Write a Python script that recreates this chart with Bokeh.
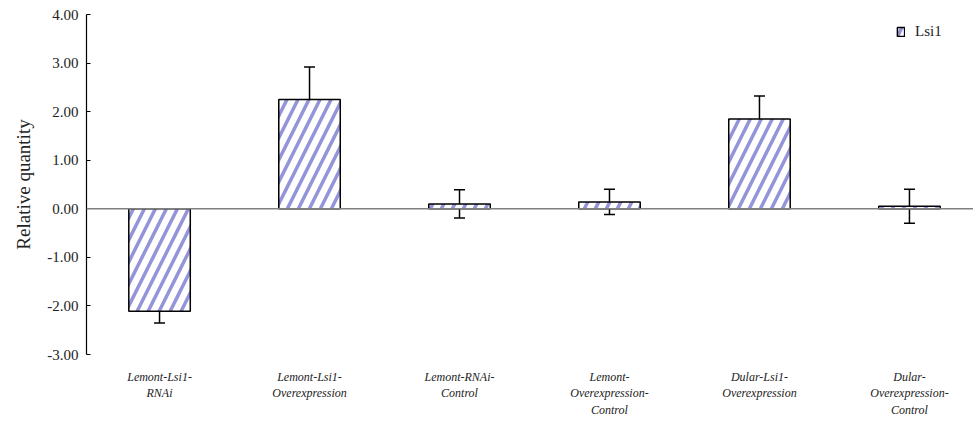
from bokeh.plotting import figure
from bokeh.models import Range1d, ColumnDataSource, Whisker, TeeHead, Span, FixedTicker, Legend, LegendItem
from bokeh.embed import file_html
from bokeh.resources import INLINE

categories = ["Lemont-Lsi1-\nRNAi", "Lemont-Lsi1-\nOverexpression", "Lemont-RNAi-\nControl",
              "Lemont-\nOverexpression-\nControl", "Dular-Lsi1-\nOverexpression",
              "Dular-\nOverexpression-\nControl"]
values = [-2.11, 2.25, 0.10, 0.14, 1.85, 0.05]
errors = [0.24, 0.67, 0.29, 0.26, 0.47, 0.35]
y_ticks = [-3, -2, -1, 0, 1, 2, 3, 4]
series_name = "Lsi1"

FONT = "Liberation Serif"
xs = list(range(len(categories)))
src = ColumnDataSource(dict(
    x=xs, top=values,
    upper=[v + e for v, e in zip(values, errors)],
    lower=[v - e for v, e in zip(values, errors)],
))

p = figure(frame_width=887, frame_height=340, output_backend="svg", toolbar_location=None,
           x_range=Range1d(-0.487, 5.427), y_range=Range1d(-3, 4),
           min_border_left=86, min_border_right=0, min_border_top=14, min_border_bottom=10)
p.outline_line_color = None
p.grid.visible = False

p.add_layout(Span(location=0, dimension="width", line_color="#808080", line_width=1.5))

r = p.vbar(x="x", top="top", bottom=0, width=0.41, source=src,
           fill_color="white", line_color="black", line_width=1.5,
           hatch_pattern="/", hatch_color="#9494da", hatch_weight=3.5, hatch_scale=22)

p.add_layout(Whisker(base="x", upper="upper", lower="lower", source=src,
                     line_color="black", line_width=1.5,
                     upper_head=TeeHead(size=11, line_color="black", line_width=1.5),
                     lower_head=TeeHead(size=11, line_color="black", line_width=1.5)))

# y axis
p.yaxis.ticker = FixedTicker(ticks=y_ticks)
p.yaxis.major_label_overrides = {t: f"{t:.2f}" for t in y_ticks}
p.yaxis.major_tick_in = 4
p.yaxis.major_tick_out = 0
p.yaxis.minor_tick_line_color = None
p.yaxis.axis_line_color = "black"
p.yaxis.axis_line_width = 1.2
p.yaxis.major_tick_line_width = 1.2
p.yaxis.major_label_text_font = FONT
p.yaxis.major_label_text_font_size = "15px"
p.yaxis.major_label_text_color = "#222222"
p.yaxis.major_label_standoff = 8
p.yaxis.axis_label = "Relative quantity"
p.yaxis.axis_label_text_font = FONT
p.yaxis.axis_label_text_font_size = "19px"
p.yaxis.axis_label_text_font_style = "normal"
p.yaxis.axis_label_text_color = "#222222"
p.yaxis.axis_label_standoff = 10

# x axis
p.xaxis.ticker = FixedTicker(ticks=xs)
p.xaxis.major_label_overrides = {i: c for i, c in zip(xs, categories)}
p.xaxis.axis_line_color = None
p.xaxis.major_tick_line_color = None
p.xaxis.major_tick_in = 0
p.xaxis.major_tick_out = 0
p.xaxis.minor_tick_line_color = None
p.xaxis.major_label_text_font = FONT
p.xaxis.major_label_text_font_size = "12px"
p.xaxis.major_label_text_font_style = "italic"
p.xaxis.major_label_text_color = "#222222"
p.xaxis.major_label_standoff = 15

legend = Legend(items=[LegendItem(label=series_name, renderers=[r])],
                location=(810, 314), border_line_color=None, background_fill_alpha=0,
                padding=0, margin=0, glyph_width=9, glyph_height=11, label_height=11,
                label_standoff=10,
                label_text_font=FONT, label_text_font_size="15px", label_text_color="#222222")
p.add_layout(legend)

open("out.html", "w").write(file_html(p, INLINE))
